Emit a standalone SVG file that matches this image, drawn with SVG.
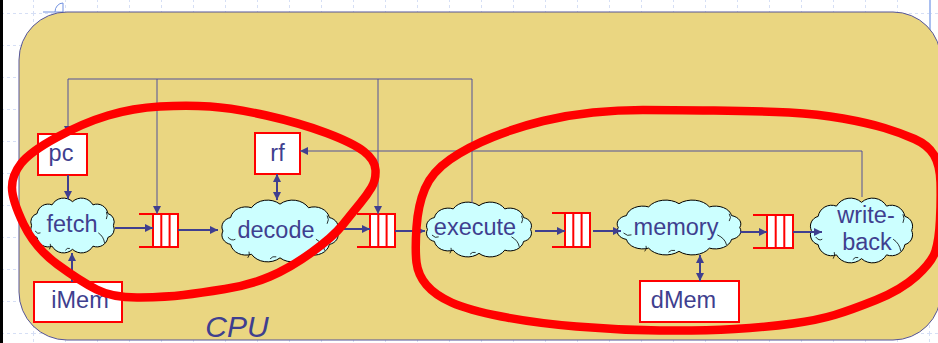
<svg xmlns="http://www.w3.org/2000/svg" width="938" height="343" viewBox="0 0 938 343">
<style>
.lbl{font-family:"Liberation Sans",Arial,sans-serif;font-size:23.5px;fill:#3f3f8f;text-anchor:middle}
.cpu{font-family:"Liberation Sans",Arial,sans-serif;font-size:30px;font-style:italic;fill:#3f3f8f;text-anchor:middle}
.box{fill:#fff;stroke:#ff0000;stroke-width:2}
.cloud{fill:#ccffff;stroke:#000;stroke-width:1}
.curl{fill:none;stroke:#000;stroke-width:0.8}
.qd{fill:none;stroke:#ff0000;stroke-width:2}
.fb{fill:none;stroke:#50509a;stroke-width:1}
.ar{fill:none;stroke:#3f3f8f;stroke-width:2}
.red{fill:none;stroke:#ff0000;stroke-width:8.5;stroke-linecap:round;stroke-linejoin:round}
</style>
<defs>
<pattern id="grid" x="33" y="13" width="32" height="32" patternUnits="userSpaceOnUse">
<path d="M0.5,0 V32 M0,0.5 H32" stroke="#d6dff5" stroke-width="1" stroke-dasharray="3 3" fill="none"/>
</pattern>
<marker id="ah" viewBox="0 0 10 10" refX="10" refY="5" markerWidth="10" markerHeight="8" markerUnits="userSpaceOnUse" orient="auto-start-reverse">
<path d="M0,0 L10,5 L0,10 z" fill="#3f3f8f"/>
</marker>
<g id="cloudshape">
<path class="cloud" vector-effect="non-scaling-stroke" d="M96,30 A9.4,9.4 0 0 1 89.8,43 A12.5,12.5 0 0 1 73,52.5 A15,15 0 0 1 50,56 A15,15 0 0 1 27,52.5 A12.5,12.5 0 0 1 10.2,43 A9.4,9.4 0 0 1 4,30 A9.4,9.4 0 0 1 10.2,17 A12.5,12.5 0 0 1 27,7.5 A15,15 0 0 1 50,4 A15,15 0 0 1 73,7.5 A12.5,12.5 0 0 1 89.8,17 A9.4,9.4 0 0 1 96,30 Z"/>
<path class="curl" vector-effect="non-scaling-stroke" d="M79,38 Q85,42 86,49 M8,36 Q11,40 14,38 M88,15 Q90,19 88,23 M42,57 Q44,54 47,55 M25,50 Q26,53 24,56"/>
</g>
</defs>
<rect x="0" y="0" width="938" height="343" fill="#fff"/>
<rect x="0" y="0" width="938" height="343" fill="url(#grid)"/>
<rect x="0" y="0" width="3" height="343" fill="#000"/>
<line x1="930" y1="0" x2="930" y2="36" stroke="#a9bff0" stroke-width="2"/>
<path d="M43,12 H63 V3 A8,9 0 0 0 55,12" fill="none" stroke="#7090e0" stroke-width="1"/>

<g id="cpu">
<rect x="19" y="12" width="922" height="328" rx="48" ry="48" fill="#ead681" stroke="#55559a" stroke-width="1"/>
<text class="cpu" x="237" y="337">CPU</text>
</g>

<g id="pc"><rect class="box" x="38" y="134" width="49" height="41"/><text class="lbl" x="61" y="161">pc</text></g>
<g id="rf"><rect class="box" x="255" y="133" width="45" height="41"/><text class="lbl" x="277.5" y="161">rf</text></g>
<g id="iMem"><rect class="box" x="34" y="282" width="88" height="40"/><text class="lbl" x="80" y="308">iMem</text></g>
<g id="dMem"><rect class="box" x="640" y="281" width="99" height="41"/><text class="lbl" x="683.5" y="308">dMem</text></g>

<g id="fetch"><use href="#cloudshape" transform="translate(28,198) scale(0.89,0.917)"/><text class="lbl" x="72" y="232">fetch</text></g>
<g id="decode"><use href="#cloudshape" transform="translate(218,200) scale(1.24,1.033)"/><text class="lbl" x="276" y="238">decode</text></g>
<g id="execute"><use href="#cloudshape" transform="translate(423,202) scale(1.12,0.917)"/><text class="lbl" x="475" y="235">execute</text></g>
<g id="memory"><use href="#cloudshape" transform="translate(613,200) scale(1.32,0.917)"/><text class="lbl" x="676" y="235">memory</text></g>
<g id="writeback"><use href="#cloudshape" transform="translate(807,198) scale(1.09,1.083)"/><text class="lbl" x="866" y="223">write-</text><text class="lbl" x="867" y="250">back</text></g>

<g id="queue1"><rect class="box" x="153" y="214" width="25" height="33"/><path class="qd" d="M139,214 H153 M139,247 H153 M161.3,214 V247 M169.6,214 V247"/></g>
<g id="queue2"><rect class="box" x="370" y="214" width="25" height="33"/><path class="qd" d="M357,214 H370 M357,247 H370 M378.3,214 V247 M386.6,214 V247"/></g>
<g id="queue3"><rect class="box" x="565" y="213" width="25" height="34"/><path class="qd" d="M552,213 H565 M552,247 H565 M573.3,213 V247 M581.6,213 V247"/></g>
<g id="queue4"><rect class="box" x="767" y="215" width="26" height="33"/><path class="qd" d="M753,215 H767 M753,248 H767 M775.7,215 V248 M784.3,215 V248"/></g>

<g id="connectors">
<path class="fb" d="M472,203 V79 H68 V134" marker-end="url(#ah)"/>
<path class="fb" d="M157,79 V214" marker-end="url(#ah)"/>
<path class="fb" d="M378,79 V214" marker-end="url(#ah)"/>
<path class="fb" d="M862,197 V151 H300" marker-end="url(#ah)"/>
<path class="ar" d="M68,175 V199" marker-end="url(#ah)"/>
<path class="ar" d="M72,282 V253" marker-end="url(#ah)"/>
<path class="ar" d="M115,228 H153" marker-end="url(#ah)"/>
<path class="ar" d="M178,230 H218" marker-end="url(#ah)"/>
<path class="ar" d="M277,174 V200" marker-start="url(#ah)" marker-end="url(#ah)"/>
<path class="ar" d="M338,229 H370" marker-end="url(#ah)"/>
<path class="ar" d="M395,231 H425" marker-end="url(#ah)"/>
<path class="ar" d="M535,231 H565" marker-end="url(#ah)"/>
<path class="ar" d="M593,231 H621" marker-end="url(#ah)"/>
<path class="ar" d="M700,255 V281" marker-start="url(#ah)" marker-end="url(#ah)"/>
<path class="ar" d="M740,232 H767" marker-end="url(#ah)"/>
<path class="ar" d="M793,232 H822" marker-end="url(#ah)"/>
</g>

<g id="annotations">
<path class="red" d="M160,106.5 Q187,105 210,106.5 Q233,108 266.5,115.5 Q300,123 326.5,133 Q353,143 364,151.5 Q375,160 375.5,170 Q376,180 371.5,187.5 Q367,195 360,203.5 Q353,212 343,224.5 Q333,237 311.5,252.5 Q290,268 270,276.5 Q250,285 225,289 Q200,293 183.5,295 Q167,297 140,297.5 Q113,298 96.5,289.5 Q80,281 57.5,264.5 Q35,248 23.5,224 Q12,200 12,187.5 Q12,175 21,163.5 Q30,152 56.5,137.5 Q83,123 108,115.5 Q133,108 160,106.5 Z"/>
<path class="red" d="M450,159.5 Q468,147 493,137 Q518,127 543,121 Q568,115 593,112.5 Q618,110 643,110 Q668,110 714,110.5 Q760,111 789,112.5 Q818,114 843,118.5 Q868,123 884.5,128 Q901,133 914.5,139 Q928,145 934,155 Q940,165 940.5,182.5 Q941,200 940,220 Q939,240 935.5,251 Q932,262 916.5,276 Q901,290 876,300 Q851,310 834.5,315 Q818,320 793,323.5 Q768,327 734.5,329 Q701,331 659.5,330.5 Q618,330 576.5,326.5 Q535,323 501.5,316.5 Q468,310 451.5,302.5 Q435,295 426.5,285 Q418,275 416.5,262.5 Q415,250 416.5,227.5 Q418,205 425,188.5 Q432,172 450,159.5 Z"/>
</g>
</svg>
